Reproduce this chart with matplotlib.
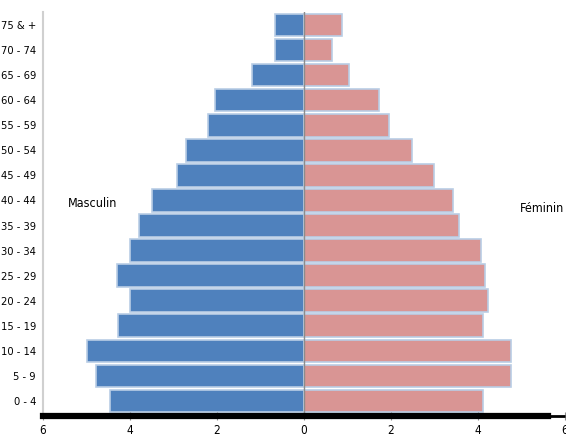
import matplotlib.pyplot as plt
import numpy as np

# Age groups, youngest first (drawn bottom to top)
age_groups = ['0 - 4', '5 - 9', '10 - 14', '15 - 19', '20 - 24', '25 - 29', '30 - 34',
              '35 - 39', '40 - 44', '45 - 49', '50 - 54', '55 - 59', '60 - 64',
              '65 - 69', '70 - 74', '75 & +']
# share of population (%)
masculin = [4.46, 4.78, 4.98, 4.27, 4.0, 4.31, 4.0, 3.79, 3.49, 2.93, 2.72, 2.2, 2.05,
            1.19, 0.67, 0.67]
feminin = [4.12, 4.76, 4.76, 4.12, 4.23, 4.17, 4.08, 3.57, 3.43, 2.99, 2.49, 1.95, 1.72,
           1.03, 0.64, 0.88]

xticks = [-6, -4, -2, 0, 2, 4, 6]

font = dict(family='DejaVu Sans', stretch='condensed')

fig = plt.figure(figsize=(5.66, 4.38), dpi=100)
ax = fig.add_axes([43 / 566, 22 / 438, 522 / 566, 404 / 438])

y = np.arange(len(age_groups))
ax.barh(y, [-v for v in masculin], height=0.9, color='#4f81bd',
        edgecolor='#b9cde5', linewidth=1.2)
ax.barh(y, feminin, height=0.9, color='#d99594',
        edgecolor='#b9cde5', linewidth=1.2)
ax.axvline(0, color='#8c8c8c', linewidth=1)

ax.set_xlim(-6, 6)
ax.set_ylim(-0.6, 15.52)

ax.set_yticks(y)
ax.set_yticklabels(age_groups, fontsize=8, **font)
ax.tick_params(axis='y', length=0, pad=5)

ax.set_xticks(xticks)
ax.set_xticklabels([str(abs(t)) for t in xticks], fontsize=8.5, **font)
ax.tick_params(axis='x', direction='inout', length=6, color='#8c8c8c', pad=3)

for side in ['top', 'right']:
    ax.spines[side].set_visible(False)
ax.spines['left'].set_color('#d0d0d0')
ax.spines['left'].set_linewidth(1.5)
ax.spines['bottom'].set_color('black')
ax.spines['bottom'].set_linewidth(4.5)
ax.spines['bottom'].set_bounds(-6, 5.6)
ax.plot([5.6, 6], [-0.6, -0.6], color='black', linewidth=2, clip_on=False,
        solid_capstyle='butt')

ax.text(-4.87, 7.88, 'Masculin', fontsize=9, ha='center', va='center', **font)
ax.text(5.46, 7.68, 'Féminin', fontsize=9, ha='center', va='center', **font)

fig.savefig('out.png', dpi=100)
